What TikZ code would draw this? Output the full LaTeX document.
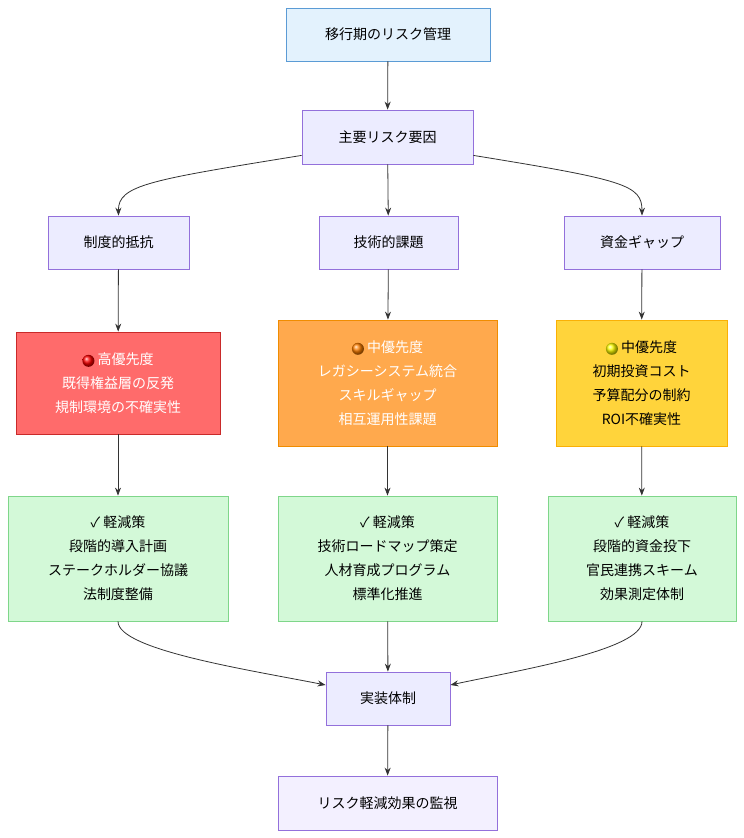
\documentclass[tikz,border=0pt]{standalone}
\usepackage{fontspec}
\setmainfont{Noto Sans CJK JP}
\usetikzlibrary{arrows.meta}
\definecolor{dfill}{HTML}{ECECFF}\definecolor{dline}{HTML}{9370DB}
\definecolor{tfill}{HTML}{E3F2FD}\definecolor{tline}{HTML}{5B9BD5}
\definecolor{rfill}{HTML}{FF6B6B}\definecolor{rline}{HTML}{C92A2A}
\definecolor{ofill}{HTML}{FFA94D}\definecolor{oline}{HTML}{F08C00}
\definecolor{yfill}{HTML}{FFD43B}\definecolor{yline}{HTML}{FAB005}
\definecolor{gfill}{HTML}{D3F9D8}\definecolor{gline}{HTML}{7FD68A}
\definecolor{pfill}{HTML}{F3F0FF}\definecolor{pline}{HTML}{9370DB}
\definecolor{edge}{HTML}{333333}
\newcommand{\dotc}[2]{\tikz[baseline=-3.5pt]\shade[ball color=#1] (0,0) circle (6pt);}
\begin{document}
\begin{tikzpicture}[x=1pt,y=-1pt,
  box/.style={draw=dline,fill=dfill,line width=0.8pt,align=center,font=\fontsize{14}{24}\selectfont,inner sep=0pt},
  arr/.style={-{Stealth[length=8pt,width=6pt]},draw=edge,line width=0.8pt}]
\useasboundingbox (0,0) rectangle (744,838);
\node[box,draw=tline,fill=tfill,minimum width=204,minimum height=53] (top) at (388,34.5) {移行期のリスク管理};
\node[box,minimum width=171,minimum height=54] (main) at (387.5,137) {主要リスク要因};
\node[box,minimum width=141,minimum height=53] (a) at (118.5,242.5) {制度的抵抗};
\node[box,minimum width=139,minimum height=53] (b) at (388.5,242.5) {技術的課題};
\node[box,minimum width=156,minimum height=53] (c) at (642,242.5) {資金ギャップ};
\node[box,draw=rline,fill=rfill,text=white,minimum width=204,minimum height=102] (ra) at (118,383) {\dotc{red}{} 高優先度\\既得権益層の反発\\規制環境の不確実性};
\node[box,draw=oline,fill=ofill,text=white,minimum width=219,minimum height=126] (rb) at (387.5,383) {\dotc{orange}{} 中優先度\\レガシーシステム統合\\スキルギャップ\\相互運用性課題};
\node[box,draw=yline,fill=yfill,text=black,minimum width=171,minimum height=126] (rc) at (641.5,383) {\dotc{yellow}{} 中優先度\\初期投資コスト\\予算配分の制約\\ROI不確実性};
\node[box,draw=gline,fill=gfill,minimum width=220,minimum height=125] (ma) at (118,558.5) {✓ 軽減策\\段階的導入計画\\ステークホルダー協議\\法制度整備};
\node[box,draw=gline,fill=gfill,minimum width=219,minimum height=125] (mb) at (387.5,558.5) {✓ 軽減策\\技術ロードマップ策定\\人材育成プログラム\\標準化推進};
\node[box,draw=gline,fill=gfill,minimum width=188,minimum height=125] (mc) at (642,558.5) {✓ 軽減策\\段階的資金投下\\官民連携スキーム\\効果測定体制};
\node[box,minimum width=124,minimum height=53] (impl) at (388,698.5) {実装体制};
\node[box,draw=pline,fill=pfill,minimum width=219,minimum height=54] (mon) at (387.5,803) {リスク軽減効果の監視};
\draw[arr] (top) -- (main);
\draw[arr] (main.south west) ++(0,-9) .. controls (150,180) and (118,185) .. (a.north);
\draw[arr] (main) -- (b);
\draw[arr] (main.south east) ++(0,-9) .. controls (625,180) and (642,185) .. (c.north);
\draw[arr] (a) -- (ra); \draw[arr] (b) -- (rb); \draw[arr] (c) -- (rc);
\draw[arr] (ra) -- (ma); \draw[arr] (rb) -- (mb); \draw[arr] (rc) -- (mc);
\draw[arr] (ma.south) .. controls (118,650) and (250,670) .. (impl.west|-0,685);
\draw[arr] (mb) -- (impl);
\draw[arr] (mc.south) .. controls (642,650) and (520,670) .. (impl.east|-0,685);
\draw[arr] (impl) -- (mon);
\end{tikzpicture}
\end{document}
